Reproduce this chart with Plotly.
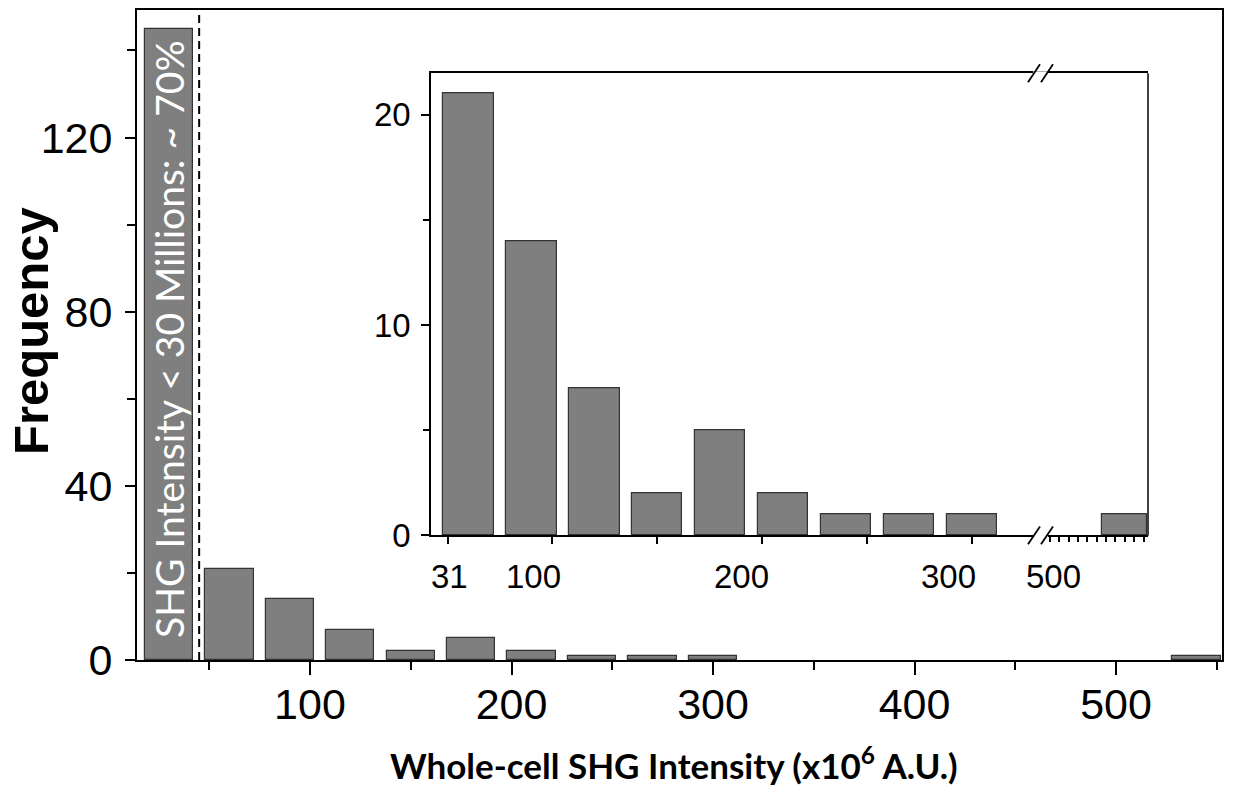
import plotly.graph_objects as go

# ---------------- data ----------------
bin_centers = [30, 60, 90, 120, 150, 180, 210, 240, 270, 300, 540]
counts = [145, 21, 14, 7, 2, 5, 2, 1, 1, 1, 1]
bar_width = 24

main_x_ticks = [100, 200, 300, 400, 500]
main_x_minor = [50, 150, 250, 350, 450, 550]
main_y_ticks = [0, 40, 80, 120]
main_y_minor = [20, 60, 100, 140]

inset_y_ticks = [0, 10, 20]
inset_y_minor = [5, 15]
inset_x_ticks_a = [50, 100, 150, 200, 250, 300]
inset_x_ticks_b = [500, 505, 510, 515, 520, 525, 530, 535, 540, 545, 550]
inset_x_labels = ["31", "100", "200", "300", "500"]
inset_x_label_vals = [50, 100, 200, 300, 500]
inset_x_label_shift = [2, -19, -21, -23, 3]

threshold = 45
bar_note = "SHG Intensity < 30 Millions: ~ 70%"
x_title = "Whole-cell SHG Intensity (x10<sup>6</sup> A.U.)"
y_title = "Frequency"

# ---------------- geometry helpers (pixels -> paper) ----------------
W, H = 1233, 785
L, R, T, B = 137, 11, 8, 125
PW, PH = W - L - R, H - T - B


def px(xp):
    return (xp - L) / PW


def py(yp):
    return (H - B - yp) / PH


# inset geometry
ix0, ixb, ix1 = 431, 1040, 1148
iy0, iy1 = 535, 71.5


def va(xp):  # inset part A pixel -> value
    return 60 + (xp - 468.6) / 2.097


def vb(xp):  # inset part B pixel -> value
    return 500 + (xp - 1050) / 1.87


fill = "#7f7f7f"
edge = "#333333"
tick_font = dict(family="Liberation Sans, Arial, sans-serif", size=43, color="black")
inset_font = dict(family="Liberation Sans, Arial, sans-serif", size=33, color="black")

ia = [i for i, c in enumerate(bin_centers) if 40 < c < 400]
ib = [i for i, c in enumerate(bin_centers) if c >= 400]

fig = go.Figure()
fig.add_trace(go.Bar(x=bin_centers, y=counts, width=bar_width,
                     marker=dict(color=fill, line=dict(color=edge, width=1.2)),
                     xaxis="x", yaxis="y", showlegend=False))
fig.add_trace(go.Bar(x=[bin_centers[i] for i in ia], y=[counts[i] for i in ia],
                     width=bar_width,
                     marker=dict(color=fill, line=dict(color=edge, width=1.2)),
                     xaxis="x2", yaxis="y2", showlegend=False))
fig.add_trace(go.Bar(x=[bin_centers[i] for i in ib], y=[counts[i] for i in ib],
                     width=bar_width,
                     marker=dict(color=fill, line=dict(color=edge, width=1.2)),
                     xaxis="x3", yaxis="y2", showlegend=False))

axis_common = dict(showgrid=False, zeroline=False, showline=True, linecolor="black")

fig.update_layout(
    width=W, height=H,
    margin=dict(l=L, r=R, t=T, b=B, pad=0),
    paper_bgcolor="white", plot_bgcolor="rgba(0,0,0,0)",
    bargap=0,
    xaxis=dict(**axis_common, linewidth=2, mirror=True, domain=[0, 1],
               range=[14.15, 552.6], tickmode="array", tickvals=main_x_ticks,
               ticks="outside", ticklen=13, tickwidth=2, tickcolor="black",
               tickfont=tick_font, ticklabelstandoff=-8,
               minor=dict(tickmode="array", tickvals=main_x_minor, ticks="outside",
                          ticklen=8, tickwidth=2, tickcolor="black")),
    yaxis=dict(**axis_common, linewidth=2, mirror=True, domain=[0, 1],
               range=[0, 149.3], tickmode="array", tickvals=main_y_ticks,
               ticks="outside", ticklen=10, tickwidth=2, tickcolor="black",
               tickfont=tick_font, ticklabelstandoff=4,
               minor=dict(tickmode="array", tickvals=main_y_minor, ticks="outside",
                          ticklen=8, tickwidth=2, tickcolor="black")),
    xaxis2=dict(**axis_common, linewidth=1.5, mirror=True, anchor="y2",
                domain=[px(ix0), px(ixb)], range=[va(ix0), va(ixb)],
                tickmode="array", tickvals=inset_x_ticks_a, showticklabels=False,
                ticks="outside", ticklen=7, tickwidth=1.5, tickcolor="black"),
    xaxis3=dict(**axis_common, linewidth=1.5, mirror=True, anchor="y2",
                domain=[px(ixb), px(ix1)], range=[vb(ixb), vb(ix1)],
                tickmode="array", tickvals=inset_x_ticks_b, showticklabels=False,
                ticks="outside", ticklen=5, tickwidth=1.5, tickcolor="black"),
    yaxis2=dict(**axis_common, linewidth=1.5, anchor="x2",
                domain=[py(iy0), py(iy1)], range=[0, (iy0 - iy1) / 21.1],
                tickmode="array", tickvals=inset_y_ticks,
                ticks="outside", ticklen=8, tickwidth=1.5, tickcolor="black",
                tickfont=inset_font, ticklabelstandoff=4,
                minor=dict(tickmode="array", tickvals=inset_y_minor, ticks="outside",
                           ticklen=6, tickwidth=1.5, tickcolor="black")),
)

shapes = []
# dashed threshold line
shapes.append(dict(type="line", xref="x", yref="paper", x0=threshold, x1=threshold,
                   y0=0, y1=1, line=dict(color="black", width=2, dash="8px,5px"),
                   layer="above"))
# inset right border
shapes.append(dict(type="line", xref="paper", yref="paper", x0=px(ix1), x1=px(ix1),
                   y0=py(iy0), y1=py(iy1), line=dict(color="black", width=1.5),
                   layer="above"))
# axis break marks (bottom and top)
for yline in (iy0, iy1):
    shapes.append(dict(type="rect", xref="paper", yref="paper",
                       x0=px(1033), x1=px(1048), y0=py(yline + 2), y1=py(yline - 2),
                       fillcolor="white", line=dict(width=0), layer="above"))
    for (xa, xb2) in ((1028, 1040), (1041, 1053)):
        shapes.append(dict(type="line", xref="paper", yref="paper",
                           x0=px(xa), x1=px(xb2), y0=py(yline + 9), y1=py(yline - 9),
                           line=dict(color="black", width=1.8), layer="above"))
fig.update_layout(shapes=shapes)

annotations = []
# rotated note inside the first bar
annotations.append(dict(text=bar_note, x=bin_centers[0], xref="x", y=py(338), yref="paper",
                        textangle=-90, showarrow=False, xanchor="center", yanchor="middle",
                        font=dict(family="Lato, sans-serif", size=39, color="white")))
# inset x tick labels
for lab, val, sh in zip(inset_x_labels, inset_x_label_vals, inset_x_label_shift):
    annotations.append(dict(text=lab, x=val, xref="x2" if val < 400 else "x3",
                            y=py(576), yref="paper", xshift=sh, showarrow=False,
                            xanchor="center", yanchor="middle", font=inset_font))
# axis titles
annotations.append(dict(text="<b>" + x_title + "</b>", x=px(674), xref="paper",
                        y=py(763), yref="paper", showarrow=False,
                        xanchor="center", yanchor="middle",
                        font=dict(family="Lato, sans-serif", size=35, color="black")))
annotations.append(dict(text="<b>" + y_title + "</b>", x=px(31), xref="paper",
                        y=py(330), yref="paper", showarrow=False, textangle=-90,
                        xanchor="center", yanchor="middle",
                        font=dict(family="Liberation Sans, Arial, sans-serif", size=49,
                                  color="black")))
fig.update_layout(annotations=annotations)

fig.write_html("out.html", config={"displayModeBar": False},
               post_script="document.body.style.margin='0';document.body.style.overflow='hidden';")
